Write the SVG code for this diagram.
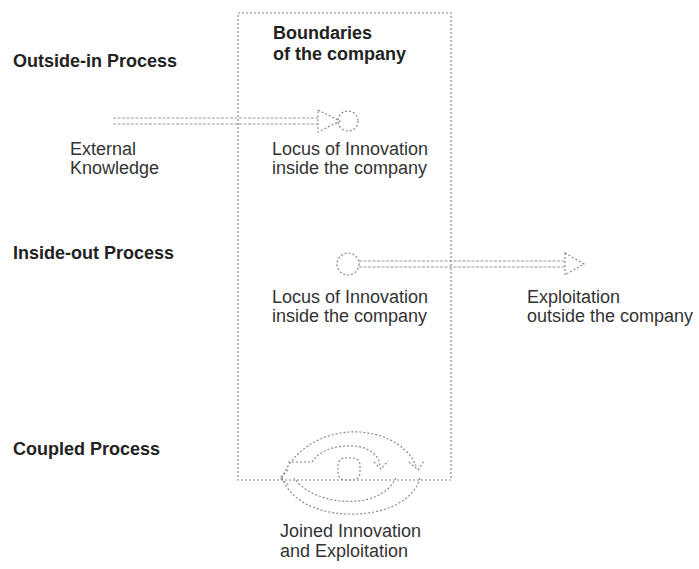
<svg xmlns="http://www.w3.org/2000/svg" width="699" height="569" viewBox="0 0 699 569">
<style>
.t{font-family:"Liberation Sans",Arial,sans-serif;font-size:18px;fill:#333}
.b{font-weight:bold;fill:#222}
.d{fill:none;stroke:#8a8a8a;stroke-width:1.2;stroke-dasharray:2 2}
.s{fill:none;stroke:#999;stroke-width:1;stroke-dasharray:3 1.5}
.h{fill:#fff;stroke:#8a8a8a;stroke-width:1.2;stroke-dasharray:2 2}
</style>
<rect width="699" height="569" fill="#fff"/>
<g id="boundary">
<rect class="d" x="238" y="13" width="213" height="467"/>
<text class="t b" x="273" y="39">Boundaries</text>
<text class="t b" x="273" y="60">of the company</text>
</g>
<g id="outside-in">
<text class="t b" x="13" y="67">Outside-in Process</text>
</g>
<g id="external-knowledge">
<text class="t" x="70" y="155">External</text>
<text class="t" x="70" y="174">Knowledge</text>
</g>
<g id="locus-1">
<circle class="h" cx="348" cy="121" r="10"/>
<text class="t" x="272" y="155">Locus of Innovation</text>
<text class="t" x="272" y="174">inside the company</text>
</g>
<g id="inside-out">
<text class="t b" x="13" y="259">Inside-out Process</text>
</g>
<g id="locus-2">
<circle class="h" cx="348" cy="264" r="11"/>
<text class="t" x="272" y="303">Locus of Innovation</text>
<text class="t" x="272" y="322">inside the company</text>
</g>
<g id="exploitation">
<text class="t" x="527" y="303">Exploitation</text>
<text class="t" x="527" y="322">outside the company</text>
</g>
<g id="coupled">
<text class="t b" x="13" y="455">Coupled Process</text>
</g>
<g id="joined">
<path class="d" d="M282,478 C295,445 330,430 360,432 C390,434 410,450 416,466"/>
<path class="d" d="M409,462 L418,470 L424,461"/>
<path class="d" d="M420,478 C412,505 378,515 348,514 C312,513 290,498 282,478"/>
<path class="d" d="M288,470 L280,478 L290,486"/>
<path class="d" d="M288,462 L312,462 C320,450 335,445 355,446 C372,448 380,458 380,466"/>
<path class="d" d="M374,462 L381,469 L388,461"/>
<path class="d" d="M396,478 C386,498 362,503 340,501 C316,498 302,489 294,478"/>
<rect class="d" x="338" y="458" width="22" height="22" rx="7"/>
<text class="t" x="280" y="537">Joined Innovation</text>
<text class="t" x="280" y="557">and Exploitation</text>
</g>
<g id="connectors">
<path class="s" d="M113,118 H318 M113,124 H318"/>
<polygon class="h" points="318,110 340,121 318,132"/>
<path class="s" d="M359,261 H565 M359,267 H565"/>
<polygon class="h" points="565,253 584,264 565,275"/>
</g>
</svg>
